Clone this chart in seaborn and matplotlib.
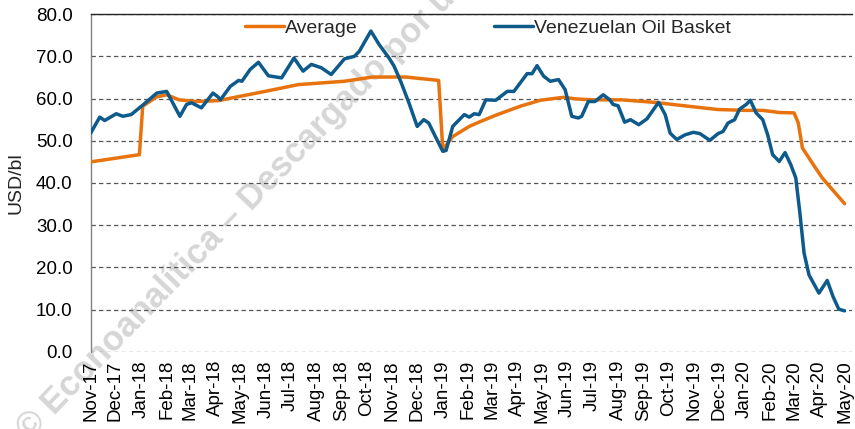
import pandas as pd
import matplotlib.pyplot as plt
import matplotlib.dates as mdates
import seaborn as sns

# Average (USD/bl)
avg_dates = ['2017-11-01', '2017-12-30', '2018-01-03', '2018-01-20', '2018-02-01', '2018-02-16',
             '2018-03-08', '2018-04-04', '2018-05-31', '2018-07-10', '2018-09-04', '2018-10-08',
             '2018-11-17', '2018-12-27', '2019-01-01', '2019-01-13', '2019-02-02', '2019-02-16',
             '2019-03-08', '2019-04-05', '2019-04-29', '2019-05-27', '2019-06-12', '2019-07-02',
             '2019-08-05', '2019-09-14', '2019-10-24', '2019-11-30', '2020-01-03', '2020-01-23',
             '2020-02-12', '2020-03-01', '2020-03-06', '2020-03-11', '2020-03-23', '2020-04-04',
             '2020-05-01']
avg_values = [45.0, 46.7, 58.2, 60.4, 60.9, 59.7,
              59.3, 59.5, 61.7, 63.3, 64.1, 65.1,
              65.1, 64.3, 47.9, 51.0, 53.4, 54.6,
              56.2, 58.2, 59.6, 60.3, 59.9, 59.7,
              59.7, 59.1, 58.2, 57.4, 57.2, 57.2,
              56.7, 56.6, 54.2, 48.3, 44.7, 41.2,
              35.1]

# Venezuelan Oil Basket (USD/bl)
basket_dates = ['2017-11-01', '2017-11-12', '2017-11-18', '2017-12-02', '2017-12-10', '2017-12-20',
                '2018-01-04', '2018-01-20', '2018-02-01', '2018-02-17', '2018-02-25', '2018-03-03',
                '2018-03-15', '2018-03-29', '2018-04-04', '2018-04-07', '2018-04-19', '2018-04-29',
                '2018-05-03', '2018-05-13', '2018-05-23', '2018-06-04', '2018-06-20', '2018-07-05',
                '2018-07-16', '2018-07-26', '2018-08-07', '2018-08-19', '2018-09-04', '2018-09-16',
                '2018-09-22', '2018-10-06', '2018-10-16', '2018-10-28', '2018-11-03', '2018-11-11',
                '2018-11-21', '2018-12-01', '2018-12-09', '2018-12-15', '2018-12-23', '2019-01-01',
                '2019-01-05', '2019-01-13', '2019-01-21', '2019-01-27', '2019-02-02', '2019-02-08',
                '2019-02-14', '2019-02-22', '2019-03-06', '2019-03-20', '2019-03-28', '2019-04-13',
                '2019-04-19', '2019-04-25', '2019-05-03', '2019-05-11', '2019-05-21', '2019-05-29',
                '2019-06-06', '2019-06-14', '2019-06-18', '2019-06-26', '2019-07-04', '2019-07-14',
                '2019-07-22', '2019-07-26', '2019-08-01', '2019-08-09', '2019-08-16', '2019-08-26',
                '2019-09-05', '2019-09-19', '2019-09-27', '2019-10-03', '2019-10-11', '2019-10-21',
                '2019-10-31', '2019-11-08', '2019-11-20', '2019-11-30', '2019-12-06', '2019-12-12',
                '2019-12-20', '2019-12-26', '2020-01-03', '2020-01-08', '2020-01-15', '2020-01-23',
                '2020-01-29', '2020-02-04', '2020-02-12', '2020-02-19', '2020-02-26', '2020-03-03',
                '2020-03-08', '2020-03-13', '2020-03-19', '2020-03-31', '2020-04-10', '2020-04-17',
                '2020-04-24', '2020-05-01']
basket_values = [51.8, 55.6, 54.8, 56.4, 55.8, 56.2,
                 58.6, 61.3, 61.7, 55.8, 58.6, 59.0,
                 57.8, 61.3, 60.4, 59.7, 62.9, 64.3,
                 64.1, 66.9, 68.6, 65.4, 64.9, 69.6,
                 66.5, 68.1, 67.3, 65.7, 69.4, 70.0,
                 71.2, 76.0, 72.8, 69.6, 67.7, 64.1,
                 59.0, 53.4, 55.0, 54.2, 51.0, 47.5,
                 47.7, 53.4, 55.0, 56.2, 55.6, 56.4,
                 56.2, 59.7, 59.6, 61.7, 61.7, 65.9,
                 65.9, 67.8, 65.3, 64.1, 64.5, 62.1,
                 55.8, 55.4, 55.8, 59.3, 59.3, 60.9,
                 59.7, 58.6, 58.3, 54.4, 55.0, 53.8,
                 55.2, 59.1, 56.2, 51.8, 50.3, 51.4,
                 52.0, 51.7, 50.1, 51.7, 52.2, 54.2,
                 55.0, 57.5, 58.6, 59.6, 56.6, 55.0,
                 51.4, 46.7, 45.1, 47.2, 44.3, 41.2,
                 32.8, 23.4, 18.2, 13.9, 16.9, 13.1,
                 10.1, 9.7]

series_names = ['Average', 'Venezuelan Oil Basket']
colors = ['#E8730E', '#0D5A8B']

sns.set_theme(style='white')
plt.rcParams['font.family'] = ['Liberation Sans', 'DejaVu Sans']

df = pd.concat([
    pd.DataFrame({'date': pd.to_datetime(avg_dates), 'value': avg_values, 'series': series_names[0]}),
    pd.DataFrame({'date': pd.to_datetime(basket_dates), 'value': basket_values, 'series': series_names[1]}),
], ignore_index=True)

fig, ax = plt.subplots(figsize=(8.55, 4.29), dpi=100)
fig.subplots_adjust(left=0.106, right=0.9965, bottom=0.18, top=0.967)

# watermark behind the lines
ax.text(0.035, -0.028, '© Econoanalítica – Descargado por us', transform=fig.transFigure,
        rotation=46, rotation_mode='anchor', ha='left', va='baseline',
        fontsize=25, fontweight='bold', color='#d6d6d6', zorder=0.5, clip_on=False)

sns.lineplot(data=df, x='date', y='value', hue='series', hue_order=series_names,
             palette=colors, linewidth=2.5, ax=ax, zorder=3)

ax.set_ylim(0, 80)
ax.set_xlim(pd.Timestamp('2017-11-01'), pd.Timestamp('2020-05-10'))
ax.set_yticks(range(0, 81, 10))
ax.yaxis.set_major_formatter(plt.FuncFormatter(lambda v, p: f'{v:.1f}'))
ax.xaxis.set_major_locator(mdates.MonthLocator())
ax.xaxis.set_major_formatter(mdates.DateFormatter('%b-%y'))
ax.tick_params(axis='y', length=0, pad=13, labelsize=13.5, colors='black')
ax.tick_params(axis='x', length=0, pad=6, labelsize=13.5, labelrotation=90, colors='black')
ax.set_xlabel('')
ax.set_ylabel('USD/bl', fontsize=14, labelpad=8)

ax.yaxis.grid(True, color='#555555', linestyle=(0, (3.5, 2.5)), linewidth=0.9)
ax.xaxis.grid(False)
ax.set_axisbelow(True)
ax.spines[['right', 'bottom']].set_visible(False)
ax.spines['left'].set_color('#808080')
ax.spines['top'].set_color('#222222')
ax.spines['left'].set_linewidth(1.0)
ax.spines['top'].set_linewidth(1.0)

handles, labels = ax.get_legend_handles_labels()
ax.legend(handles, labels, loc='center left', bbox_to_anchor=(0.278, 0.935),
          bbox_transform=fig.transFigure, ncol=2, frameon=False, fontsize=14,
          handlelength=2.0, handletextpad=0.05, columnspacing=7.0, borderaxespad=0)

fig.savefig('out.png', dpi=100)
